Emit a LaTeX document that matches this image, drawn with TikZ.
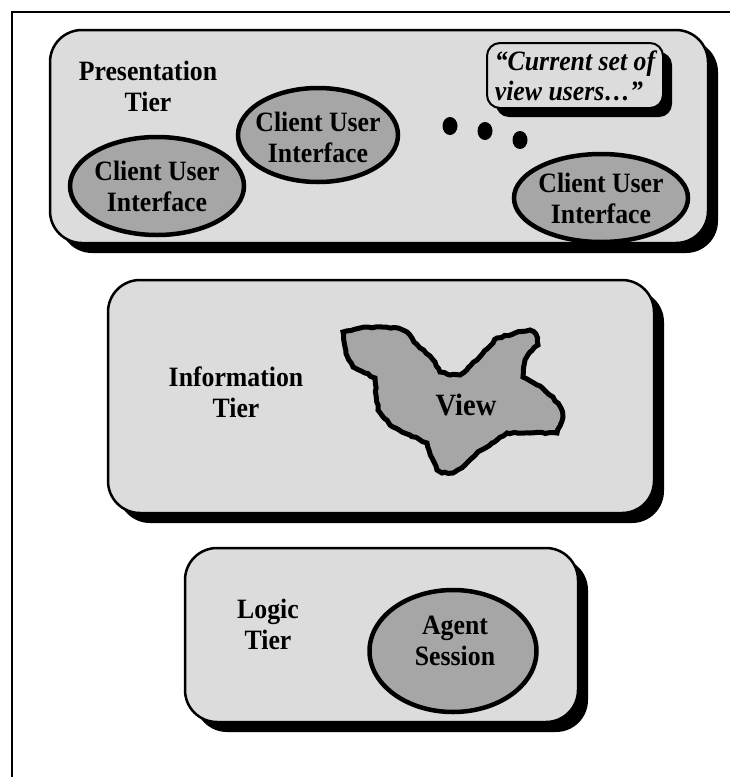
\documentclass[tikz,border=0pt]{standalone}
\usepackage{fontspec}
\setmainfont[FakeStretch=0.92]{Liberation Serif}
\usetikzlibrary{shapes.geometric,shadows,decorations.pathmorphing}
\definecolor{boxgray}{HTML}{DCDCDC}
\definecolor{ellgray}{HTML}{A6A6A6}
\begin{document}
\begin{tikzpicture}[x=1pt,y=-1pt,
  tier/.style={draw=black, line width=2.5pt, fill=boxgray, rounded corners=32pt,
    general shadow={fill=black, shadow xshift=10pt, shadow yshift=-10pt}},
  cui/.style={ellipse, draw=black, line width=4.5pt, fill=ellgray, inner sep=0pt},
  lbl/.style={align=center, inner sep=0pt, font=\fontsize{28}{31}\selectfont\bfseries},
  dotn/.style={ellipse, fill=black, minimum width=15pt, minimum height=18pt, inner sep=0pt},
  callbox/.style={draw=black, line width=2pt, fill=boxgray, rounded corners=13pt,
    general shadow={fill=black, shadow xshift=9pt, shadow yshift=-9pt},
    align=left, inner sep=0pt, font=\fontsize{28}{30}\selectfont\bfseries\itshape},
  blob/.style={draw=black, line width=5pt, fill=ellgray,
    decorate, decoration={random steps, segment length=4pt, amplitude=0.8pt}}
  ]
\pgfmathsetseed{7}
\useasboundingbox (0,0) rectangle (730,777);
% frame
\coordinate (fb) at (12,777);
\coordinate (fc) at (12,12);
\coordinate (fr) at (730,12);
\draw[line width=1.5pt] (fb) -- (fc) -- (fr);

% tiers
\node[tier, minimum width=658pt, minimum height=213pt] (pres) at (379,136.5) {};
\node[tier, minimum width=546pt, minimum height=233pt] (info) at (381,396.5) {};
\node[tier, minimum width=393pt, minimum height=174pt] (logic) at (381.5,635) {};

% presentation tier
\node[lbl] (ptl) at (148,86) {Presentation\\Tier};
\node[cui, minimum width=174pt, minimum height=98pt] (c1) at (157,186) {};
\node[lbl] (c1t) at (c1) {Client User\\Interface};
\node[cui, minimum width=160pt, minimum height=94pt] (c2) at (318,135) {};
\node[lbl] (c2t) at (318,137) {Client User\\Interface};
\node[cui, minimum width=174pt, minimum height=88pt] (c3) at (601,198) {};
\node[lbl] (c3t) at (c3) {Client User\\Interface};
\node[dotn] (d1) at (450,126) {};
\node[dotn] (d2) at (485,131) {};
\node[dotn] (d3) at (520,140) {};
\node[callbox, minimum width=176pt, minimum height=65pt] (cb) at (575,75.5)
  {“Current set of\\view users…”};

% information tier
\node[lbl] (itl) at (236,392) {Information\\Tier};
\draw[blob] (343,332) -- (360,328) -- (382,327) -- (398,328) -- (407,332) -- (414,342)
  -- (420,348) -- (430,356) -- (435,362) -- (440,372) -- (450,375) -- (460,375)
  -- (468,368) -- (477,360) -- (487,349) -- (497,338) -- (515,333) -- (530,330)
  -- (536,334) -- (538,345) -- (530,352) -- (525,360) -- (523,377) -- (540,386)
  -- (553,397) -- (561,408) -- (563,417) -- (560,426) -- (557,433) -- (530,433)
  -- (507,433) -- (492,443) -- (477,453) -- (465,465) -- (453,473) -- (442,473)
  -- (437,470) -- (432,458) -- (427,443) -- (410,435) -- (393,427) -- (384,418)
  -- (378,410) -- (376,395) -- (375,378) -- (365,373) -- (353,367) -- (348,358)
  -- (345,347) -- cycle;
\node[align=center, inner sep=0pt, font=\fontsize{31}{34}\selectfont\bfseries] (view) at (466,405) {View};

% logic tier
\node[lbl] (ltl) at (268,624) {Logic\\Tier};
\node[cui, minimum width=167pt, minimum height=122pt] (ag) at (453,651) {};
\node[lbl] (agt) at (455,641) {Agent\\Session};
\end{tikzpicture}
\end{document}
